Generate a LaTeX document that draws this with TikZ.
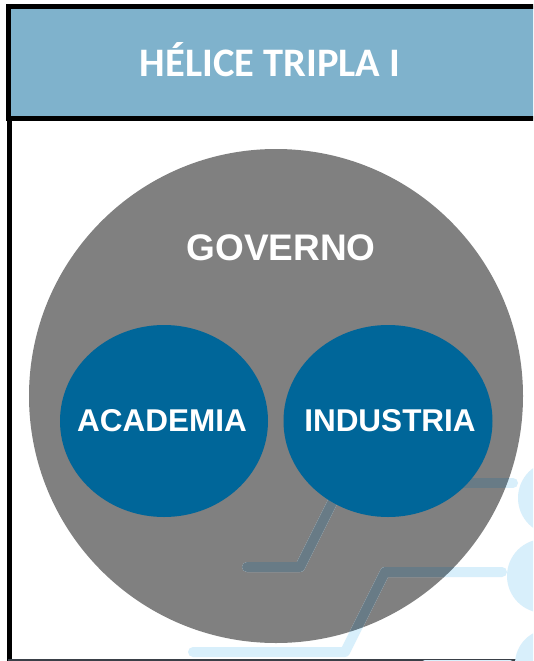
\documentclass[tikz,border=0pt]{standalone}
\usepackage{fontspec}
\newfontfamily\titlefont{Carlito}
\newfontfamily\arialfont{Liberation Sans}
\usetikzlibrary{shapes.geometric}
\definecolor{headfill}{HTML}{7FB2CC}
\definecolor{govgray}{HTML}{808080}
\definecolor{helixblue}{HTML}{006699}
\definecolor{wmlight}{HTML}{D8EFFB}
\definecolor{wmdark}{HTML}{687B86}
\definecolor{bottomline}{HTML}{3A4048}
\tikzset{
  wmline/.style={line width=10pt, line cap=round, line join=round},
  bluebub/.style={ellipse, fill=helixblue, minimum width=208pt, minimum height=192pt, inner sep=0pt},
  bubtext/.style={text=white, font=\arialfont\bfseries\fontsize{31.5}{36}\selectfont},
}
\begin{document}
\begin{tikzpicture}[x=1pt,y=-1pt]
\clip (0,0) rectangle (533,661);
\fill[white] (0,0) rectangle (533,661);
% header
\draw[line width=5pt, fill=headfill] (8.5,6.5) rectangle (560,118.5);
\node[anchor=base, text=white, font=\titlefont\bfseries\fontsize{40.5}{48}\selectfont] (title) at (270,77) {HÉLICE TRIPLA I};
% lower box borders
\draw[line width=5pt] (9.5,121) -- (9.5,661);
\draw[line width=2pt, bottomline] (8,660) -- (533,660);
% big circle
\node[circle, fill=govgray, minimum size=494pt, inner sep=0pt] (gov) at (276,396) {};
% watermark (light, everywhere)
\def\watermark{%
  \draw[wmline] (345,477) -- (300,567) -- (247,567);
  \draw[wmline] (440,483) -- (513,483);
  \draw[wmline] (502,572) -- (385,572) -- (345,652) -- (193,652);
  \draw[wmline] (425,665) -- (510,665);
  \fill (555,498) circle (37);
  \fill (544,576) circle (37);
  \fill (550,664) circle (35);
}
\begin{scope}[draw=wmlight, fill=wmlight]
\watermark
\end{scope}
\begin{scope}
\clip (276,396) circle (247);
\begin{scope}[draw=wmdark, fill=wmdark]
\watermark
\end{scope}
\end{scope}
\node[anchor=base, text=white, font=\arialfont\bfseries\fontsize{37}{44}\selectfont] (govtext) at (281,260) {GOVERNO};
% inner ellipses
\node[bluebub] (acad) at (164,421) {};
\node[bluebub, minimum width=209pt] (ind) at (388,421) {};
\node[bubtext, anchor=base] (acadtext) at (162,431) {ACADEMIA};
\node[bubtext, anchor=base] (indtext) at (390,431) {INDUSTRIA};
\end{tikzpicture}
\end{document}
